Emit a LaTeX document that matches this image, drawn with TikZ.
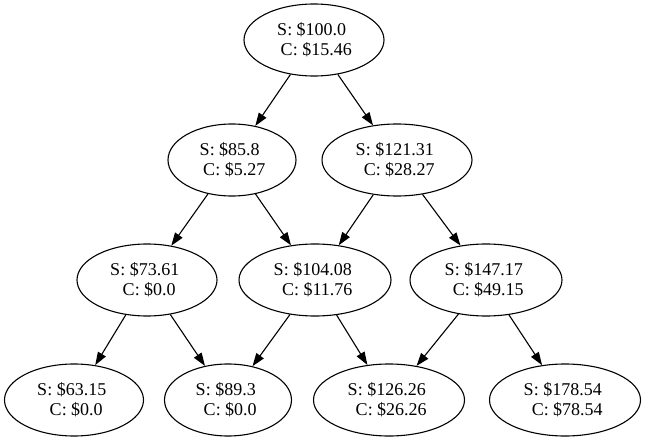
\documentclass[tikz,border=0pt]{standalone}
\usepackage{fontspec}
\setmainfont{Liberation Serif}
\usetikzlibrary{arrows.meta, shapes.geometric, positioning}
\newcommand{\pricelbl}[2]{S: \$#1\hspace*{0.25em}\\\hspace*{0.25em}C: \$#2}

\begin{document}
\begin{tikzpicture}[
      x=1pt, y=-1pt, >={Triangle[length=13pt,width=9pt]},
      every node/.style={font=\fontsize{18}{20}\selectfont},
      price/.style={ellipse, draw, line width=1.1pt, align=center, inner sep=0pt,
        minimum height=72pt},
      every path/.style={line width=1.1pt},
      ]
      \useasboundingbox (0,0) rectangle (646,441);

      \node[price, minimum width=140pt] (n_00) at (314, 40)  {\pricelbl{100.0}{15.46}};

      \node[price, minimum width=128pt] (n_10) at (232, 160) {\pricelbl{85.8}{5.27}};
      \node[price, minimum width=150pt] (n_11) at (397, 160) {\pricelbl{121.31}{28.27}};

      \node[price, minimum width=140pt] (n_20) at (147, 280) {\pricelbl{73.61}{0.0}};
      \node[price, minimum width=152pt] (n_21) at (315, 280) {\pricelbl{104.08}{11.76}};
      \node[price, minimum width=152pt] (n_22) at (486, 280) {\pricelbl{147.17}{49.15}};

      \node[price, minimum width=139pt] (n_30) at (74, 400)  {\pricelbl{63.15}{0.0}};
      \node[price, minimum width=127pt] (n_31) at (228, 400) {\pricelbl{89.3}{0.0}};
      \node[price, minimum width=151pt] (n_32) at (389, 400) {\pricelbl{126.26}{26.26}};
      \node[price, minimum width=151pt] (n_33) at (565, 400) {\pricelbl{178.54}{78.54}};

      \draw[->] (n_00) -- (n_10);
      \draw[->] (n_00) -- (n_11);
      \draw[->] (n_10) -- (n_20);
      \draw[->] (n_10) -- (n_21);
      \draw[->] (n_11) -- (n_21);
      \draw[->] (n_11) -- (n_22);
      \draw[->] (n_20) -- (n_30);
      \draw[->] (n_20) -- (n_31);
      \draw[->] (n_21) -- (n_31);
      \draw[->] (n_21) -- (n_32);
      \draw[->] (n_22) -- (n_32);
      \draw[->] (n_22) -- (n_33);
    \end{tikzpicture}
\end{document}
